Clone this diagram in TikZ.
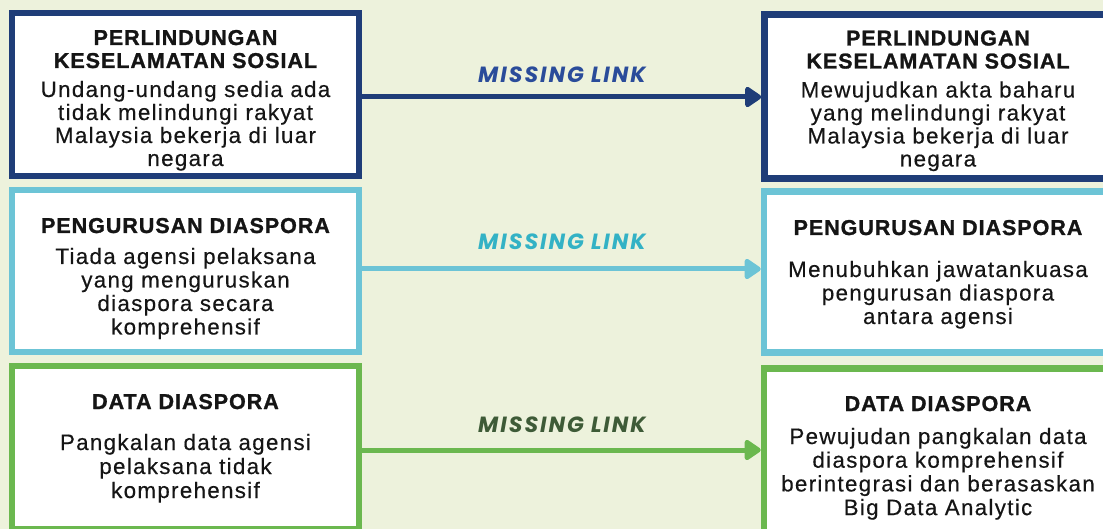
\documentclass[tikz,border=0pt]{standalone}
\usepackage{fontspec}
\setmainfont{Liberation Sans}
\newfontfamily\titlefont{Liberation Sans}[LetterSpace=4.5,FakeBold=1.2]
\newfontfamily\bodyfont{Liberation Sans}[LetterSpace=6,FakeBold=0.4]
\newfontfamily\linkfont{Poppins}[LetterSpace=9]
\usetikzlibrary{arrows.meta}

\definecolor{bg}{HTML}{EDF2DC}
\definecolor{navy}{HTML}{1F3D78}
\definecolor{navytext}{HTML}{2A4C9A}
\definecolor{sky}{HTML}{6CC4D6}
\definecolor{skytext}{HTML}{33B2C5}
\definecolor{leaf}{HTML}{6BB84F}
\definecolor{leaftext}{HTML}{3E5B37}
\definecolor{ink}{HTML}{151515}

% centred lines with a fixed baseline distance; the baseline is the first line
\newcommand\stacklines[2]{\vtop{\baselineskip=#1\relax\lineskiplimit=-50pt\halign{\hfil##\hfil\cr#2\crcr}}}

\tikzset{
  box/.style={draw, rectangle, line width=6pt, fill=white, inner sep=0pt},
  title/.style={anchor=base, inner sep=0pt, text=ink,
    font=\titlefont\bfseries\fontsize{21.5}{22.5}\selectfont},
  body/.style={anchor=base, inner sep=0pt, text=ink,
    font=\bodyfont\fontsize{22.3}{23}\selectfont},
  link/.style={anchor=base, inner sep=0pt,
    font=\linkfont\bfseries\itshape\fontsize{22}{23}\selectfont},
  flow/.style={line width=5pt, -{Triangle[length=18pt,width=23pt,round]}}
}

\begin{document}
\begin{tikzpicture}[x=1pt, y=-1pt]
\useasboundingbox (0,0) rectangle (1103,529);
\fill[bg] (0,0) rectangle (1103,529);
\clip (0,0) rectangle (1103,529);

% current situation (left column)
\node[box, draw=navy, minimum width=347pt, minimum height=163pt] (l1) at (185.5,94.5) {};
\node[box, draw=sky,  minimum width=347pt, minimum height=162pt] (l2) at (185.5,271) {};
\node[box, draw=leaf, minimum width=347pt, minimum height=163pt] (l3) at (185.5,447.5) {};

% proposed solution (right column)
\node[box, draw=navy, line width=6.5pt, minimum width=347.5pt, minimum height=164pt] (r1) at (938.25,96.5) {};
\node[box, draw=sky,  line width=6.5pt, minimum width=348pt, minimum height=161pt] (r2) at (938,272) {};
\node[box, draw=leaf, line width=6.5pt, minimum width=348pt, minimum height=171.5pt] (r3) at (938,454.25) {};

% texts of the left column
\node[title] (l1t) at (185.5,45) {\stacklines{23pt}{PERLINDUNGAN\cr KESELAMATAN SOSIAL}};
\node[body]  (l1b) at (185.5,97) {\stacklines{23pt}{Undang-undang sedia ada\cr tidak melindungi rakyat\cr Malaysia bekerja di luar\cr negara}};
\node[title] (l2t) at (185.5,233) {PENGURUSAN DIASPORA};
\node[body]  (l2b) at (185.5,264) {\stacklines{23.5pt}{Tiada agensi pelaksana\cr yang menguruskan\cr diaspora secara\cr komprehensif}};
\node[title] (l3t) at (185.5,409) {DATA DIASPORA};
\node[body]  (l3b) at (185.5,450) {\stacklines{24pt}{Pangkalan data agensi\cr pelaksana tidak\cr komprehensif}};

% texts of the right column
\node[title] (r1t) at (938,45.5) {\stacklines{23pt}{PERLINDUNGAN\cr KESELAMATAN SOSIAL}};
\node[body]  (r1b) at (938,97.5) {\stacklines{23pt}{Mewujudkan akta baharu\cr yang melindungi rakyat\cr Malaysia bekerja di luar\cr negara}};
\node[title] (r2t) at (938,235) {PENGURUSAN DIASPORA};
\node[body]  (r2b) at (938,277) {\stacklines{23.5pt}{Menubuhkan jawatankuasa\cr pengurusan diaspora\cr antara agensi}};
\node[title] (r3t) at (938,411) {DATA DIASPORA};
\node[body]  (r3b) at (938,444) {\stacklines{23.7pt}{Pewujudan pangkalan data\cr diaspora komprehensif\cr berintegrasi dan berasaskan\cr Big Data Analytic}};

% links between the columns
\draw[flow, navy] ([yshift=-2.5pt]l1.east) -- ([yshift=-2.5pt]l1.east -| r1.west);
\draw[flow, sky]  ([yshift=2pt]l2.east)    -- ([yshift=2pt]l2.east -| r2.west);
\draw[flow, leaf] ([yshift=-2.5pt]l3.east) -- ([yshift=-2.5pt]l3.east -| r3.west);

\node[link, text=navytext] (k1) at (562,83)  {MISSING LINK};
\node[link, text=skytext]  (k2) at (562,250) {MISSING LINK};
\node[link, text=leaftext] (k3) at (562,432) {MISSING LINK};
\end{tikzpicture}
\end{document}
